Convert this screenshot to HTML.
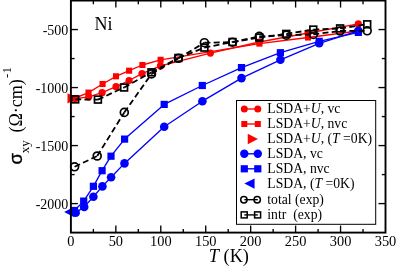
<!DOCTYPE html>
<html><head><meta charset="utf-8"><title>Ni anomalous Hall conductivity</title>
<style>
html,body{margin:0;padding:0;background:#fff;width:396px;height:266px;overflow:hidden;}
svg{display:block;font-family:"Liberation Serif",serif;will-change:transform;}
</style></head><body>
<svg width="396" height="266" viewBox="0 0 396 266" font-family='"Liberation Serif", serif' fill="#000"><polyline points="75.2,98.6 88.7,96.8 102.1,92.7 116.0,86.7 129.1,80.5 142.0,73.6 160.5,65.9 210.4,53.1 259.4,42.0 308.0,33.0 358.3,23.9" fill="none" stroke="#ff0000" stroke-width="1.35" stroke-linejoin="round"/><polyline points="75.2,98.0 88.5,92.6 102.6,84.0 116.0,76.3 129.1,70.7 142.4,65.0 160.6,59.8 259.4,43.6 308.0,37.5 358.3,31.0" fill="none" stroke="#ff0000" stroke-width="1.35" stroke-linejoin="round"/><polyline points="75.7,212.8 84.2,206.9 93.4,196.8 102.4,186.4 111.1,177.3 124.5,163.4 164.2,126.7 202.4,101.2 241.5,78.1 280.4,59.8 319.2,43.3 358.3,30.8" fill="none" stroke="#0000ff" stroke-width="1.35" stroke-linejoin="round"/><polyline points="74.5,210.5 83.7,201.1 93.4,186.3 102.1,170.7 111.0,156.2 124.6,139.1 164.2,104.4 202.3,85.5 241.5,67.6 280.4,52.7 319.2,41.3 358.3,32.4" fill="none" stroke="#0000ff" stroke-width="1.35" stroke-linejoin="round"/><circle cx="75.2" cy="98.6" r="3.6" fill="#ff0000"/><circle cx="88.7" cy="96.8" r="3.6" fill="#ff0000"/><circle cx="102.1" cy="92.7" r="3.6" fill="#ff0000"/><circle cx="116.0" cy="86.7" r="3.6" fill="#ff0000"/><circle cx="129.1" cy="80.5" r="3.6" fill="#ff0000"/><circle cx="142.0" cy="73.6" r="3.6" fill="#ff0000"/><circle cx="160.5" cy="65.9" r="3.6" fill="#ff0000"/><circle cx="210.4" cy="53.1" r="3.6" fill="#ff0000"/><circle cx="259.4" cy="42.0" r="3.6" fill="#ff0000"/><circle cx="308.0" cy="33.0" r="3.6" fill="#ff0000"/><circle cx="358.3" cy="23.9" r="3.6" fill="#ff0000"/><rect x="72.15" y="94.95" width="6.1" height="6.1" fill="#ff0000"/><rect x="85.45" y="89.55" width="6.1" height="6.1" fill="#ff0000"/><rect x="99.55" y="80.95" width="6.1" height="6.1" fill="#ff0000"/><rect x="112.95" y="73.25" width="6.1" height="6.1" fill="#ff0000"/><rect x="126.05" y="67.65" width="6.1" height="6.1" fill="#ff0000"/><rect x="139.35" y="61.95" width="6.1" height="6.1" fill="#ff0000"/><rect x="157.55" y="56.75" width="6.1" height="6.1" fill="#ff0000"/><rect x="256.35" y="40.55" width="6.1" height="6.1" fill="#ff0000"/><rect x="304.95" y="34.45" width="6.1" height="6.1" fill="#ff0000"/><rect x="355.25" y="27.95" width="6.1" height="6.1" fill="#ff0000"/><circle cx="75.7" cy="212.8" r="4.3" fill="#0000ff"/><circle cx="84.2" cy="206.9" r="4.3" fill="#0000ff"/><circle cx="93.4" cy="196.8" r="4.3" fill="#0000ff"/><circle cx="102.4" cy="186.4" r="4.3" fill="#0000ff"/><circle cx="111.1" cy="177.3" r="4.3" fill="#0000ff"/><circle cx="124.5" cy="163.4" r="4.3" fill="#0000ff"/><circle cx="164.2" cy="126.7" r="4.3" fill="#0000ff"/><circle cx="202.4" cy="101.2" r="4.3" fill="#0000ff"/><circle cx="241.5" cy="78.1" r="4.3" fill="#0000ff"/><circle cx="280.4" cy="59.8" r="4.3" fill="#0000ff"/><circle cx="319.2" cy="43.3" r="4.3" fill="#0000ff"/><circle cx="358.3" cy="30.8" r="4.3" fill="#0000ff"/><rect x="70.90" y="206.90" width="7.2" height="7.2" fill="#0000ff"/><rect x="80.10" y="197.50" width="7.2" height="7.2" fill="#0000ff"/><rect x="89.80" y="182.70" width="7.2" height="7.2" fill="#0000ff"/><rect x="98.50" y="167.10" width="7.2" height="7.2" fill="#0000ff"/><rect x="107.40" y="152.60" width="7.2" height="7.2" fill="#0000ff"/><rect x="121.00" y="135.50" width="7.2" height="7.2" fill="#0000ff"/><rect x="160.60" y="100.80" width="7.2" height="7.2" fill="#0000ff"/><rect x="198.70" y="81.90" width="7.2" height="7.2" fill="#0000ff"/><rect x="237.90" y="64.00" width="7.2" height="7.2" fill="#0000ff"/><rect x="276.80" y="49.10" width="7.2" height="7.2" fill="#0000ff"/><rect x="315.60" y="37.70" width="7.2" height="7.2" fill="#0000ff"/><rect x="354.70" y="28.80" width="7.2" height="7.2" fill="#0000ff"/><polygon points="67.50,93.20 67.50,103.60 77.70,98.40" fill="#ff0000"/><polygon points="74.30,206.80 74.30,217.20 64.10,212.00" fill="#0000ff"/><line x1="74.6" y1="166.8" x2="97.2" y2="156.0" stroke="#000" stroke-width="1.8" stroke-dasharray="6,3.3"/><line x1="97.2" y1="156.0" x2="124.3" y2="112.4" stroke="#000" stroke-width="1.8" stroke-dasharray="6,3.3"/><line x1="124.3" y1="112.4" x2="151.5" y2="73.9" stroke="#000" stroke-width="1.8" stroke-dasharray="6,3.3"/><line x1="151.5" y1="73.9" x2="178.4" y2="58.3" stroke="#000" stroke-width="1.8" stroke-dasharray="6,3.3"/><line x1="178.4" y1="58.3" x2="204.4" y2="42.7" stroke="#000" stroke-width="1.8" stroke-dasharray="6,3.3"/><line x1="204.4" y1="42.7" x2="232.5" y2="42.2" stroke="#000" stroke-width="1.8" stroke-dasharray="6,3.3"/><line x1="232.5" y1="42.2" x2="259.3" y2="36.4" stroke="#000" stroke-width="1.8" stroke-dasharray="6,3.3"/><line x1="259.3" y1="36.4" x2="286.3" y2="35.2" stroke="#000" stroke-width="1.8" stroke-dasharray="6,3.3"/><line x1="286.3" y1="35.2" x2="313.3" y2="34.4" stroke="#000" stroke-width="1.8" stroke-dasharray="6,3.3"/><line x1="313.3" y1="34.4" x2="340.1" y2="31.0" stroke="#000" stroke-width="1.8" stroke-dasharray="6,3.3"/><line x1="340.1" y1="31.0" x2="367.2" y2="30.8" stroke="#000" stroke-width="1.8" stroke-dasharray="6,3.3"/><line x1="75.2" y1="99.4" x2="97.9" y2="99.6" stroke="#000" stroke-width="1.8" stroke-dasharray="6,3.3"/><line x1="97.9" y1="99.6" x2="124.1" y2="87.5" stroke="#000" stroke-width="1.8" stroke-dasharray="6,3.3"/><line x1="124.1" y1="87.5" x2="151.5" y2="72.3" stroke="#000" stroke-width="1.8" stroke-dasharray="6,3.3"/><line x1="151.5" y1="72.3" x2="178.4" y2="58.0" stroke="#000" stroke-width="1.8" stroke-dasharray="6,3.3"/><line x1="178.4" y1="58.0" x2="204.4" y2="47.6" stroke="#000" stroke-width="1.8" stroke-dasharray="6,3.3"/><line x1="204.4" y1="47.6" x2="232.5" y2="42.0" stroke="#000" stroke-width="1.8" stroke-dasharray="6,3.3"/><line x1="232.5" y1="42.0" x2="259.3" y2="37.6" stroke="#000" stroke-width="1.8" stroke-dasharray="6,3.3"/><line x1="259.3" y1="37.6" x2="286.3" y2="33.9" stroke="#000" stroke-width="1.8" stroke-dasharray="6,3.3"/><line x1="286.3" y1="33.9" x2="313.3" y2="29.6" stroke="#000" stroke-width="1.8" stroke-dasharray="6,3.3"/><line x1="313.3" y1="29.6" x2="340.1" y2="28.4" stroke="#000" stroke-width="1.8" stroke-dasharray="6,3.3"/><line x1="340.1" y1="28.4" x2="367.2" y2="24.3" stroke="#000" stroke-width="1.8" stroke-dasharray="6,3.3"/><circle cx="74.6" cy="166.8" r="3.95" fill="none" stroke="#000" stroke-width="1.7"/><circle cx="97.2" cy="156.0" r="3.95" fill="none" stroke="#000" stroke-width="1.7"/><circle cx="124.3" cy="112.4" r="3.95" fill="none" stroke="#000" stroke-width="1.7"/><circle cx="151.5" cy="73.9" r="3.95" fill="none" stroke="#000" stroke-width="1.7"/><circle cx="178.4" cy="58.3" r="3.95" fill="none" stroke="#000" stroke-width="1.7"/><circle cx="204.4" cy="42.7" r="3.95" fill="none" stroke="#000" stroke-width="1.7"/><circle cx="232.5" cy="42.2" r="3.95" fill="none" stroke="#000" stroke-width="1.7"/><circle cx="259.3" cy="36.4" r="3.95" fill="none" stroke="#000" stroke-width="1.7"/><circle cx="286.3" cy="35.2" r="3.95" fill="none" stroke="#000" stroke-width="1.7"/><circle cx="313.3" cy="34.4" r="3.95" fill="none" stroke="#000" stroke-width="1.7"/><circle cx="340.1" cy="31.0" r="3.95" fill="none" stroke="#000" stroke-width="1.7"/><circle cx="367.2" cy="30.8" r="3.95" fill="none" stroke="#000" stroke-width="1.7"/><rect x="71.80" y="96.00" width="6.8" height="6.8" fill="none" stroke="#000" stroke-width="1.7"/><rect x="94.50" y="96.20" width="6.8" height="6.8" fill="none" stroke="#000" stroke-width="1.7"/><rect x="120.70" y="84.10" width="6.8" height="6.8" fill="none" stroke="#000" stroke-width="1.7"/><rect x="148.10" y="68.90" width="6.8" height="6.8" fill="none" stroke="#000" stroke-width="1.7"/><rect x="175.00" y="54.60" width="6.8" height="6.8" fill="none" stroke="#000" stroke-width="1.7"/><rect x="201.00" y="44.20" width="6.8" height="6.8" fill="none" stroke="#000" stroke-width="1.7"/><rect x="229.10" y="38.60" width="6.8" height="6.8" fill="none" stroke="#000" stroke-width="1.7"/><rect x="255.90" y="34.20" width="6.8" height="6.8" fill="none" stroke="#000" stroke-width="1.7"/><rect x="282.90" y="30.50" width="6.8" height="6.8" fill="none" stroke="#000" stroke-width="1.7"/><rect x="309.90" y="26.20" width="6.8" height="6.8" fill="none" stroke="#000" stroke-width="1.7"/><rect x="336.70" y="25.00" width="6.8" height="6.8" fill="none" stroke="#000" stroke-width="1.7"/><rect x="363.80" y="20.90" width="6.8" height="6.8" fill="none" stroke="#000" stroke-width="1.7"/><rect x="70.9" y="0.55" width="314.60" height="232.05" fill="none" stroke="#000" stroke-width="1.9"/><line x1="93.37" y1="232.6" x2="93.37" y2="228.9" stroke="#000" stroke-width="1.35"/><line x1="93.37" y1="0.55" x2="93.37" y2="4.25" stroke="#000" stroke-width="1.35"/><line x1="115.84" y1="232.6" x2="115.84" y2="225.6" stroke="#000" stroke-width="1.35"/><line x1="115.84" y1="0.55" x2="115.84" y2="7.55" stroke="#000" stroke-width="1.35"/><line x1="138.31" y1="232.6" x2="138.31" y2="228.9" stroke="#000" stroke-width="1.35"/><line x1="138.31" y1="0.55" x2="138.31" y2="4.25" stroke="#000" stroke-width="1.35"/><line x1="160.79" y1="232.6" x2="160.79" y2="225.6" stroke="#000" stroke-width="1.35"/><line x1="160.79" y1="0.55" x2="160.79" y2="7.55" stroke="#000" stroke-width="1.35"/><line x1="183.26" y1="232.6" x2="183.26" y2="228.9" stroke="#000" stroke-width="1.35"/><line x1="183.26" y1="0.55" x2="183.26" y2="4.25" stroke="#000" stroke-width="1.35"/><line x1="205.73" y1="232.6" x2="205.73" y2="225.6" stroke="#000" stroke-width="1.35"/><line x1="205.73" y1="0.55" x2="205.73" y2="7.55" stroke="#000" stroke-width="1.35"/><line x1="228.20" y1="232.6" x2="228.20" y2="228.9" stroke="#000" stroke-width="1.35"/><line x1="228.20" y1="0.55" x2="228.20" y2="4.25" stroke="#000" stroke-width="1.35"/><line x1="250.67" y1="232.6" x2="250.67" y2="225.6" stroke="#000" stroke-width="1.35"/><line x1="250.67" y1="0.55" x2="250.67" y2="7.55" stroke="#000" stroke-width="1.35"/><line x1="273.14" y1="232.6" x2="273.14" y2="228.9" stroke="#000" stroke-width="1.35"/><line x1="273.14" y1="0.55" x2="273.14" y2="4.25" stroke="#000" stroke-width="1.35"/><line x1="295.61" y1="232.6" x2="295.61" y2="225.6" stroke="#000" stroke-width="1.35"/><line x1="295.61" y1="0.55" x2="295.61" y2="7.55" stroke="#000" stroke-width="1.35"/><line x1="318.09" y1="232.6" x2="318.09" y2="228.9" stroke="#000" stroke-width="1.35"/><line x1="318.09" y1="0.55" x2="318.09" y2="4.25" stroke="#000" stroke-width="1.35"/><line x1="340.56" y1="232.6" x2="340.56" y2="225.6" stroke="#000" stroke-width="1.35"/><line x1="340.56" y1="0.55" x2="340.56" y2="7.55" stroke="#000" stroke-width="1.35"/><line x1="363.03" y1="232.6" x2="363.03" y2="228.9" stroke="#000" stroke-width="1.35"/><line x1="363.03" y1="0.55" x2="363.03" y2="4.25" stroke="#000" stroke-width="1.35"/><line x1="70.9" y1="29.56" x2="77.9" y2="29.56" stroke="#000" stroke-width="1.35"/><line x1="385.5" y1="29.56" x2="378.5" y2="29.56" stroke="#000" stroke-width="1.35"/><line x1="70.9" y1="58.56" x2="74.60000000000001" y2="58.56" stroke="#000" stroke-width="1.35"/><line x1="385.5" y1="58.56" x2="381.8" y2="58.56" stroke="#000" stroke-width="1.35"/><line x1="70.9" y1="87.57" x2="77.9" y2="87.57" stroke="#000" stroke-width="1.35"/><line x1="385.5" y1="87.57" x2="378.5" y2="87.57" stroke="#000" stroke-width="1.35"/><line x1="70.9" y1="116.57" x2="74.60000000000001" y2="116.57" stroke="#000" stroke-width="1.35"/><line x1="385.5" y1="116.57" x2="381.8" y2="116.57" stroke="#000" stroke-width="1.35"/><line x1="70.9" y1="145.58" x2="77.9" y2="145.58" stroke="#000" stroke-width="1.35"/><line x1="385.5" y1="145.58" x2="378.5" y2="145.58" stroke="#000" stroke-width="1.35"/><line x1="70.9" y1="174.59" x2="74.60000000000001" y2="174.59" stroke="#000" stroke-width="1.35"/><line x1="385.5" y1="174.59" x2="381.8" y2="174.59" stroke="#000" stroke-width="1.35"/><line x1="70.9" y1="203.59" x2="77.9" y2="203.59" stroke="#000" stroke-width="1.35"/><line x1="385.5" y1="203.59" x2="378.5" y2="203.59" stroke="#000" stroke-width="1.35"/><rect x="236.5" y="100.5" width="139.20" height="123.80" fill="#fff" stroke="#000" stroke-width="1"/><line x1="244.3" y1="109.0" x2="257.8" y2="109.0" stroke="#ff0000" stroke-width="1.35"/><circle cx="244.3" cy="109.0" r="3.5" fill="#ff0000"/><circle cx="257.8" cy="109.0" r="3.5" fill="#ff0000"/><text x="267.3" y="113.30" font-size="13.7">LSDA+<tspan font-style="italic">U</tspan>, vc</text><line x1="244.3" y1="124.0" x2="257.8" y2="124.0" stroke="#ff0000" stroke-width="1.35"/><rect x="241.30" y="121.00" width="6.0" height="6.0" fill="#ff0000"/><rect x="254.80" y="121.00" width="6.0" height="6.0" fill="#ff0000"/><text x="267.3" y="128.30" font-size="13.7">LSDA+<tspan font-style="italic">U</tspan>, nvc</text><polygon points="247.75,133.80 247.75,144.20 257.95,139.00" fill="#ff0000"/><text x="267.3" y="143.30" font-size="13.7">LSDA+<tspan font-style="italic">U</tspan>, (<tspan font-style="italic">T</tspan> =0K)</text><line x1="244.3" y1="153.8" x2="257.8" y2="153.8" stroke="#0000ff" stroke-width="1.35"/><circle cx="244.3" cy="153.8" r="4.2" fill="#0000ff"/><circle cx="257.8" cy="153.8" r="4.2" fill="#0000ff"/><text x="267.3" y="158.10" font-size="13.7">LSDA, vc</text><line x1="244.3" y1="168.8" x2="257.8" y2="168.8" stroke="#0000ff" stroke-width="1.35"/><rect x="240.70" y="165.20" width="7.2" height="7.2" fill="#0000ff"/><rect x="254.20" y="165.20" width="7.2" height="7.2" fill="#0000ff"/><text x="267.3" y="173.10" font-size="13.7">LSDA, nvc</text><polygon points="254.55,178.40 254.55,188.80 244.35,183.60" fill="#0000ff"/><text x="267.3" y="187.90" font-size="13.7">LSDA, (<tspan font-style="italic">T</tspan> =0K)</text><line x1="244.3" y1="199.7" x2="257.8" y2="199.7" stroke="#000" stroke-width="1.35"/><circle cx="243.9" cy="199.7" r="3.2" fill="none" stroke="#000" stroke-width="1.5"/><circle cx="257.2" cy="199.7" r="3.2" fill="none" stroke="#000" stroke-width="1.5"/><text x="267.3" y="204.00" font-size="13.7">total (exp)</text><line x1="244.3" y1="214.9" x2="257.8" y2="214.9" stroke="#000" stroke-width="1.35"/><rect x="241.20" y="211.90" width="6.0" height="6.0" fill="none" stroke="#000" stroke-width="1.5"/><rect x="254.60" y="211.90" width="6.0" height="6.0" fill="none" stroke="#000" stroke-width="1.5"/><text x="267.3" y="219.20" font-size="13.7">intr&#160; (exp)</text><text transform="translate(70.90,246.2) scale(1,1.06)" text-anchor="middle" font-size="14.4">0</text><text transform="translate(115.84,246.2) scale(1,1.06)" text-anchor="middle" font-size="14.4">50</text><text transform="translate(160.79,246.2) scale(1,1.06)" text-anchor="middle" font-size="14.4">100</text><text transform="translate(205.73,246.2) scale(1,1.06)" text-anchor="middle" font-size="14.4">150</text><text transform="translate(250.67,246.2) scale(1,1.06)" text-anchor="middle" font-size="14.4">200</text><text transform="translate(295.61,246.2) scale(1,1.06)" text-anchor="middle" font-size="14.4">250</text><text transform="translate(340.56,246.2) scale(1,1.06)" text-anchor="middle" font-size="14.4">300</text><text transform="translate(385.50,246.2) scale(1,1.06)" text-anchor="middle" font-size="14.4">350</text><text transform="translate(68.3,34.76) scale(1,1.1)" text-anchor="end" font-size="14">-500</text><text transform="translate(68.3,92.77) scale(1,1.1)" text-anchor="end" font-size="14">-1000</text><text transform="translate(68.3,150.78) scale(1,1.1)" text-anchor="end" font-size="14">-1500</text><text transform="translate(68.3,208.79) scale(1,1.1)" text-anchor="end" font-size="14">-2000</text><text x="208.8" y="262.4" font-size="18.3"><tspan font-style="italic">T</tspan> (K)</text><text x="94.5" y="29.7" font-size="18.0">Ni</text><g transform="translate(22.0,164.2) rotate(-90)"><text x="-0.4" y="0.3" font-size="18.5" font-family="Liberation Sans, sans-serif" stroke="#000" stroke-width="0.35">&#963;</text><text x="11.0" y="7.0" font-size="13">xy</text><text x="31.7" y="0" font-size="18">(&#937;&#183;cm)</text><text x="86.3" y="-10.7" font-size="13">-1</text></g></svg>
</body></html>
